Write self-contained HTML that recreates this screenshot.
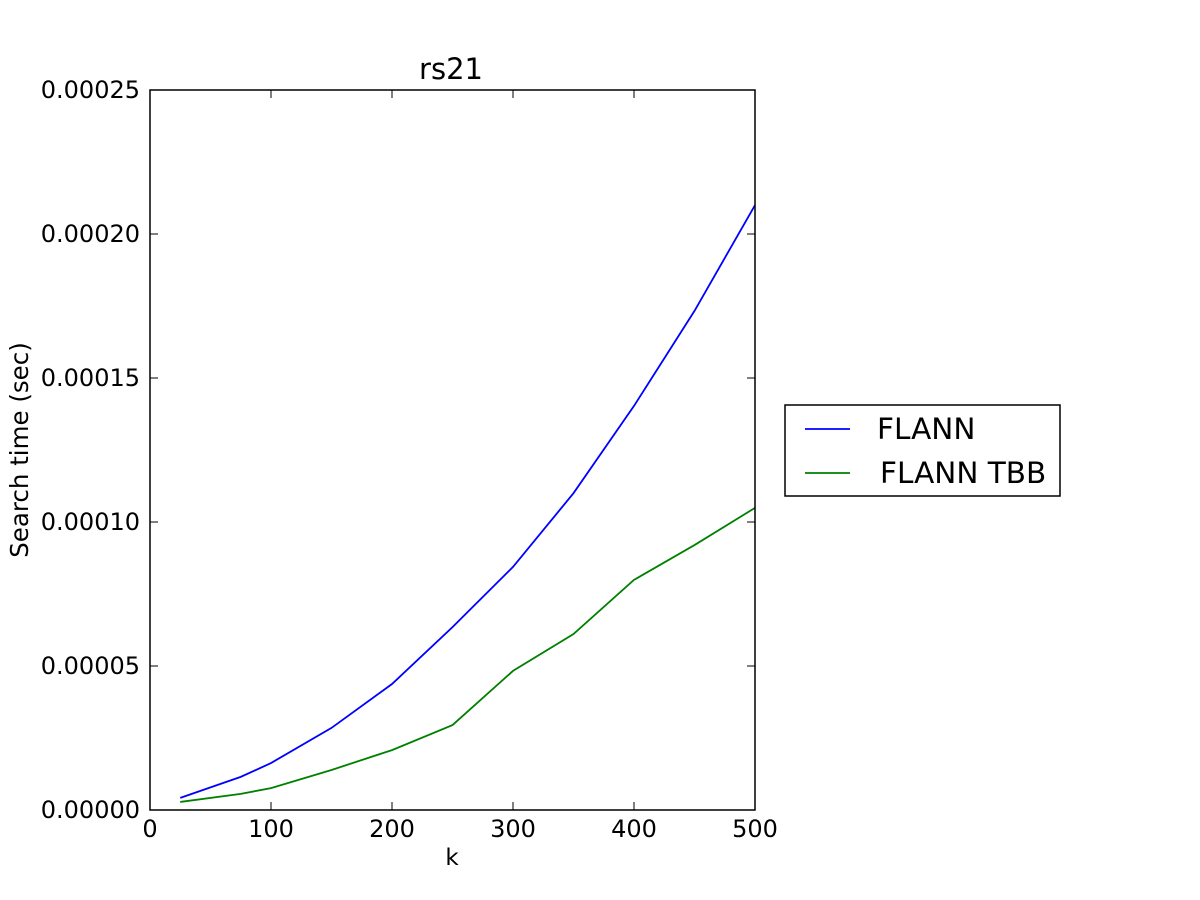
<!DOCTYPE html>
<html><head><meta charset="utf-8"><style>body{margin:0;background:#fff}svg{display:block}text{font-family:"DejaVu Sans","Liberation Sans",sans-serif}</style></head>
<body>
<svg id="chart" width="1200" height="900">
<rect width="1200" height="900" fill="#fff"/>
<text x="451" y="79" font-size="29" text-anchor="middle">rs21</text>
<g id="ticks"></g>
<g id="lines"></g>
<rect x="150" y="90" width="605" height="720" fill="none" stroke="#000" stroke-width="1.5"/>
<text x="452" y="865" font-size="23" text-anchor="middle">k</text>
<text transform="translate(28,450) rotate(-90)" font-size="24.5" text-anchor="middle">Search time (sec)</text>
<g>
<rect x="785" y="405" width="275" height="91" fill="#fff" stroke="#000" stroke-width="1.5"/>
<line x1="805" y1="429" x2="850" y2="429" stroke="#0000ff" stroke-width="1.8"/>
<text x="877" y="439" font-size="29.5">FLANN</text>
<line x1="805" y1="473" x2="850" y2="473" stroke="#008000" stroke-width="1.8"/>
<text x="880" y="483" font-size="29.5">FLANN TBB</text>
</g>
</svg>
<script>
const kValues=[25,75,100,150,200,250,300,350,400,450,500];
const flann=[0.42e-5,1.15e-5,1.63e-5,2.85e-5,4.375e-5,6.35e-5,8.44e-5,11.0e-5,14.03e-5,17.33e-5,21.0e-5];
const flannTbb=[0.28e-5,0.56e-5,0.76e-5,1.39e-5,2.08e-5,2.95e-5,4.83e-5,6.11e-5,7.99e-5,9.2e-5,10.49e-5];
const xTicks=[0,100,200,300,400,500];
const yTicks=[0,0.00005,0.0001,0.00015,0.0002,0.00025];
const yTickLabels=["0.00000","0.00005","0.00010","0.00015","0.00020","0.00025"];
const NS="http://www.w3.org/2000/svg";
const xs=v=>150+v/500*605, ys=v=>810-v/0.00025*720;
const tg=document.getElementById('ticks'), lg=document.getElementById('lines');
function mk(tag,attrs,parent){const e=document.createElementNS(NS,tag);for(const k in attrs)e.setAttribute(k,attrs[k]);parent.appendChild(e);return e;}
xTicks.forEach(t=>{const x=xs(t);
 const a=mk('line',{x1:x,y1:810,x2:x,y2:802,stroke:'#000'},tg);
 
 
 mk('line',{x1:x,y1:90,x2:x,y2:98,stroke:'#000'},tg);
 const l=mk('text',{x:x,y:837,'font-size':24,'text-anchor':'middle'},tg);l.textContent=t;
 
 
});
yTicks.forEach((t,i)=>{const y=ys(t);
 const a=mk('line',{x1:150,y1:y,x2:158,y2:y,stroke:'#000'},tg);
 
 
 mk('line',{x1:755,y1:y,x2:747,y2:y,stroke:'#000'},tg);
 const l=mk('text',{x:140,y:y+8,'font-size':24,'text-anchor':'end'},tg);l.textContent=yTickLabels[i];
 
 
});
function line(vals,color,name){
 const p=mk('polyline',{points:kValues.map((k,i)=>xs(k)+','+ys(vals[i])).join(' '),fill:'none',stroke:color,'stroke-width':1.8},lg);
 
 
}
line(flann,'#0000ff','flann-line');
line(flannTbb,'#008000','flann-tbb-line');
</script>
</body></html>
